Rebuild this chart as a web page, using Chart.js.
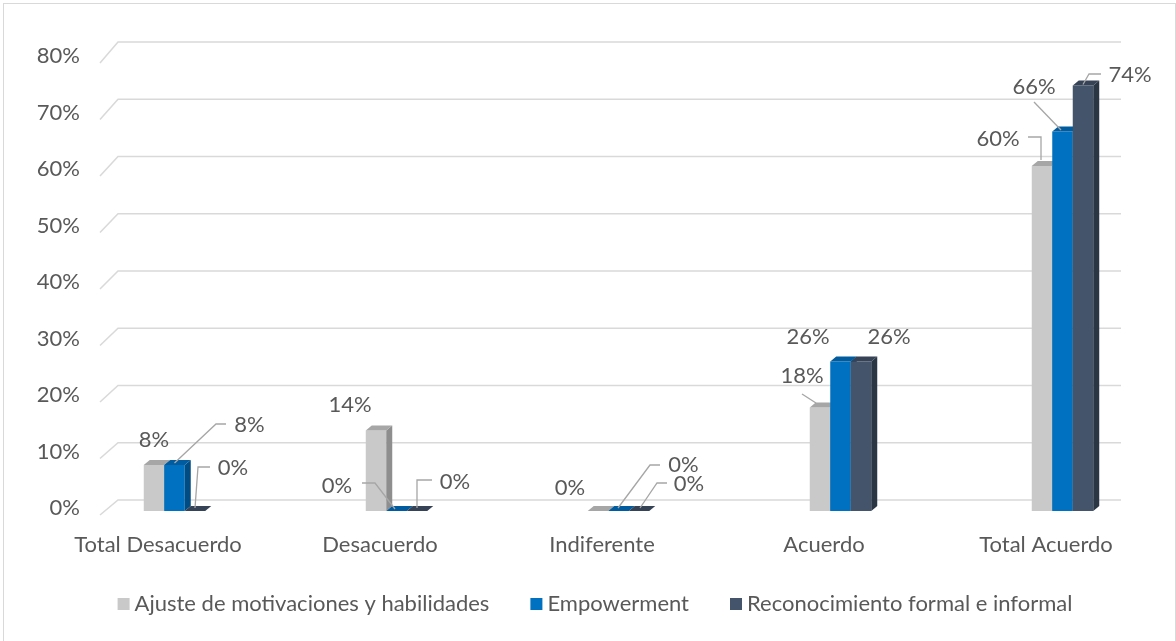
<!DOCTYPE html>
<html>
<head>
<meta charset="utf-8">
<script src="https://cdn.jsdelivr.net/npm/chart.js@4.4.1/dist/chart.umd.min.js"></script>
<style>
  html, body { margin: 0; padding: 0; background: #fff; }
  #caja { width: 1176px; height: 641px; }
</style>
</head>
<body>
<div id="caja"><canvas id="grafico"></canvas></div>
<script>
// datos del gráfico
const categorias = ['Total Desacuerdo', 'Desacuerdo', 'Indiferente', 'Acuerdo', 'Total Acuerdo'];
const ajuste = [8, 14, 0, 18, 60];
const empowerment = [8, 0, 0, 26, 66];
const reconocimiento = [0, 0, 0, 26, 74];
const ticksY = [0, 10, 20, 30, 40, 50, 60, 70, 80];
const series = ['Ajuste de motivaciones y habilidades', 'Empowerment', 'Reconocimiento formal e informal'];

// estilo (colores de cara frontal, lateral y superior)
const colores = [
    { frente: '#C9C9C9', lado: '#8E8E8E', tapa: '#A6A6A6' },
    { frente: '#0070C0', lado: '#004C83', tapa: '#005C9E' },
    { frente: '#44546A', lado: '#2B3645', tapa: '#364357' }
];
const FUENTE = '22px Lato, "Open Sans", sans-serif';
const GRIS_TEXTO = '#595959';
const DESPLAZ = 16.5;   // corrimiento 3D de las barras respecto a la etiqueta
const PROF_X = 6, PROF_Y = 5;

// posición de las etiquetas de datos (relativa a la parte superior de cada barra)
const posEtiquetas = [
    [
        { dx: 0, dy: -25 },
        { dx: -26, dy: -25.5 },
        { dx: -28, dy: -23.5 },
        { dx: -18, dy: -31.5, guia: [[-4, -4.5], [-18, -13.5]] },
        { dx: -44, dy: -27.5, guia: [[-1, -6], [-1, -29], [-14, -29]] }
    ],
    [
        { dx: 75, dy: -40, guia: [[0, -2], [41.5, -41], [51.5, -41]] },
        { dx: -59.5, dy: -25, guia: [[-1.5, -2], [-21.5, -28], [-34.5, -28]] },
        { dx: 65, dy: -46, guia: [[-0.5, -3], [31.5, -46], [41.5, -46]] },
        { dx: -32.5, dy: -24.5 },
        { dx: -28.5, dy: -45, guia: [[-1.5, -1.5], [-28.5, -29.5]] }
    ],
    [
        { dx: 38, dy: -43, guia: [[0, -3], [3, -44], [15, -44]] },
        { dx: 38, dy: -29, guia: [[0, -3], [0, -31], [15, -31]] },
        { dx: 50, dy: -27, guia: [[1, -3], [18, -28], [28, -28]] },
        { dx: 28, dy: -24.5 },
        { dx: 47, dy: -10.5, guia: [[0, -1], [6, -11.5], [18, -11.5]] }
    ]
];

function poligono(ctx, pts, color) {
    ctx.beginPath();
    ctx.moveTo(pts[0][0], pts[0][1]);
    for (let k = 1; k < pts.length; k++) ctx.lineTo(pts[k][0], pts[k][1]);
    ctx.closePath();
    ctx.fillStyle = color;
    ctx.fill();
}

const barras3d = {
    id: 'barras3d',
    beforeDraw(chart) {
        const ctx = chart.ctx;
        const y = chart.scales.y;
        ctx.save();
        ctx.fillStyle = '#fff';
        ctx.fillRect(0, 0, chart.width, chart.height);
        // borde exterior
        ctx.strokeStyle = '#D9D9D9';
        ctx.lineWidth = 1;
        ctx.strokeRect(3.5, 3.5, chart.width - 4, chart.height + 4);

        // cuadrícula con perspectiva y etiquetas del eje Y
        ctx.font = FUENTE;
        ctx.fillStyle = GRIS_TEXTO;
        ctx.textAlign = 'right';
        ctx.textBaseline = 'middle';
        ticksY.forEach(v => {
            const p = y.getPixelForValue(v);
            const t = v / 80;
            const fondo = p - 11 + 2 * t;
            const bajo = p + 4 + 8 * t;
            ctx.strokeStyle = '#D9D9D9';
            ctx.lineWidth = 1.5;
            ctx.beginPath();
            ctx.moveTo(100, bajo);
            ctx.lineTo(118, fondo);
            ctx.lineTo(1121, fondo);
            ctx.stroke();
            ctx.fillText(v + '%', 80, bajo - 7);
        });

        // etiquetas del eje X
        const x = chart.scales.x;
        ctx.textAlign = 'center';
        ctx.textBaseline = 'alphabetic';
        categorias.forEach((c, i) => {
            ctx.fillText(c, x.getPixelForValue(i), 552);
        });

        // leyenda
        const anchos = series.map(s => ctx.measureText(s).width);
        const total = anchos.reduce((a, w) => a + 12 + 5 + w, 0) + 41 * (series.length - 1);
        let lx = 595 - total / 2;
        ctx.textAlign = 'left';
        series.forEach((s, i) => {
            ctx.fillStyle = colores[i].frente;
            ctx.fillRect(lx, 598, 12, 12);
            ctx.fillStyle = GRIS_TEXTO;
            ctx.fillText(s, lx + 17, 611);
            lx += 12 + 5 + anchos[i] + 41;
        });
        ctx.restore();
    },
    beforeDatasetsDraw(chart) {
        const ctx = chart.ctx;
        ctx.save();
        // barras con caras 3D
        chart.data.datasets.forEach((ds, d) => {
            const meta = chart.getDatasetMeta(d);
            meta.data.forEach(el => {
                const w = el.width;
                const x0 = el.x - w / 2 + DESPLAZ, x1 = x0 + w;
                const top = el.y, bot = el.base;
                const c = colores[d];
                if (bot - top > 0.5) {
                    ctx.fillStyle = c.frente;
                    ctx.fillRect(x0, top, w, bot - top);
                    poligono(ctx, [[x1, top], [x1 + PROF_X, top - PROF_Y], [x1 + PROF_X, bot - PROF_Y], [x1, bot]], c.lado);
                }
                poligono(ctx, [[x0, top], [x0 + PROF_X, top - PROF_Y], [x1 + PROF_X, top - PROF_Y], [x1, top]], c.tapa);
            });
        });
        // etiquetas de datos y líneas guía
        ctx.font = FUENTE;
        ctx.textAlign = 'center';
        ctx.textBaseline = 'middle';
        chart.data.datasets.forEach((ds, d) => {
            const meta = chart.getDatasetMeta(d);
            meta.data.forEach((el, i) => {
                const cx = el.x + DESPLAZ, top = el.y;
                const pos = posEtiquetas[d][i];
                if (pos.guia) {
                    ctx.strokeStyle = '#A6A6A6';
                    ctx.lineWidth = 1.3;
                    ctx.beginPath();
                    pos.guia.forEach((g, k) => {
                        if (k === 0) ctx.moveTo(cx + g[0], top + g[1]);
                        else ctx.lineTo(cx + g[0], top + g[1]);
                    });
                    ctx.stroke();
                }
                ctx.fillStyle = GRIS_TEXTO;
                ctx.fillText(ds.data[i] + '%', cx + pos.dx, top + pos.dy);
            });
        });
        ctx.restore();
        return false;
    }
};

new Chart(document.getElementById('grafico'), {
    type: 'bar',
    data: {
        labels: categorias,
        datasets: [
            { label: series[0], data: ajuste, backgroundColor: colores[0].frente },
            { label: series[1], data: empowerment, backgroundColor: colores[1].frente },
            { label: series[2], data: reconocimiento, backgroundColor: colores[2].frente }
        ]
    },
    options: {
        responsive: true,
        maintainAspectRatio: false,
        animation: false,
        layout: { padding: { left: 47, right: 19, top: 51, bottom: 130 } },
        datasets: { bar: { categoryPercentage: 0.277, barPercentage: 1 } },
        plugins: { legend: { display: false }, tooltip: { enabled: false } },
        scales: {
            x: { display: false },
            y: { display: false, min: 0, max: 80 }
        }
    },
    plugins: [barras3d]
});
</script>
</body>
</html>
